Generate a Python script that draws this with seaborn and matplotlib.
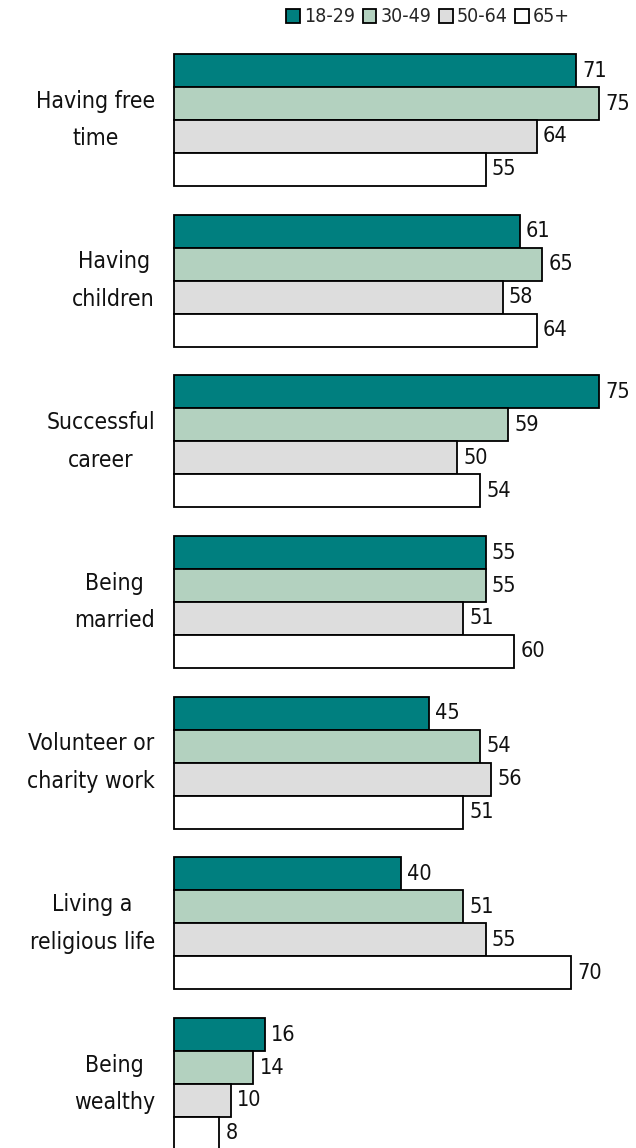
import matplotlib
matplotlib.use("Agg")
import matplotlib.pyplot as plt
import seaborn as sns
import pandas as pd
from matplotlib.patches import Patch
from matplotlib import transforms

# Survey data: share rating each item as important, by age group
categories = [
    "Having free\ntime",
    "Having\nchildren",
    "Successful\ncareer",
    "Being\nmarried",
    "Volunteer or\ncharity work",
    "Living a\nreligious life",
    "Being\nwealthy",
]
age_groups = ["18-29", "30-49", "50-64", "65+"]
age_18_29 = [71, 61, 75, 55, 45, 40, 16]
age_30_49 = [75, 65, 59, 55, 54, 51, 14]
age_50_64 = [64, 58, 50, 51, 56, 55, 10]
age_65_plus = [55, 64, 54, 60, 51, 70, 8]

colors = ["#007F7F", "#B3D1BF", "#DDDDDD", "#FFFFFF"]

series = [age_18_29, age_30_49, age_50_64, age_65_plus]
rows = []
for grp, vals in zip(age_groups, series):
    for cat, v in zip(categories, vals):
        rows.append({"category": cat, "age": grp, "value": v})
df = pd.DataFrame(rows)

sns.set_style("white")
plt.rcParams["font.family"] = ["DejaVu Sans"]
plt.rcParams["font.stretch"] = "condensed"

W, H = 636, 1148
fig = plt.figure(figsize=(W / 100, H / 100), dpi=100)
left = 174 / W
ax = fig.add_axes([left, 0, 1 - left, 1])

sns.barplot(
    data=df, y="category", x="value", hue="age",
    order=categories, hue_order=age_groups,
    palette=colors, saturation=1, orient="h", width=0.82,
    edgecolor="black", linewidth=1.3, legend=False, ax=ax,
)
for p in ax.patches:
    p.set_clip_on(False)

px_per_unit = 425 / 75
ax.set_xlim(0, (W - 174) / px_per_unit)
pitch = 160.67
ax.set_ylim(6 + (H - 1084) / pitch, -120 / pitch)

for s in ax.spines.values():
    s.set_visible(False)
ax.set_xticks([])
ax.set_yticks([])
ax.set_xlabel("")
ax.set_ylabel("")

# value labels to the right of each bar
for cont in ax.containers:
    ax.bar_label(cont, padding=4.5, fontsize=15.5, color="#111111")

# category labels, right edge at a fixed figure x, centred on each group
trans = transforms.blended_transform_factory(fig.transFigure, ax.transData)
for i, cat in enumerate(categories):
    ax.text(155 / W, i, cat, transform=trans, ha="right", va="center",
            multialignment="center", fontsize=16.5, linespacing=1.8,
            color="#111111")

handles = [Patch(facecolor=c, edgecolor="black", linewidth=1.3, label=a)
           for c, a in zip(colors, age_groups)]
fig.legend(handles=handles, loc="center", bbox_to_anchor=(428 / W, 1 - 17 / H),
           ncol=4, frameon=False, handlelength=0.7, handleheight=0.7,
           handletextpad=0.2, columnspacing=0.4, fontsize=14,
           borderpad=0, borderaxespad=0)

fig.savefig("out.png", dpi=100)
